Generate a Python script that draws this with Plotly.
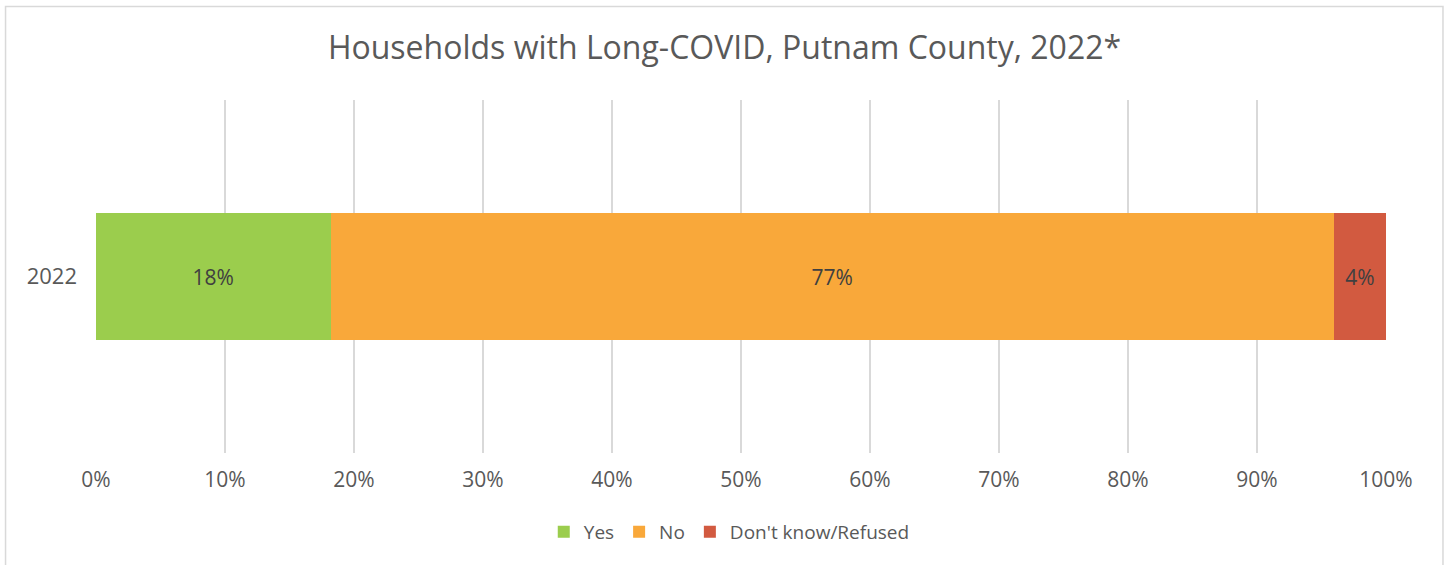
import plotly.graph_objects as go

categories = ["2022"]
series_names = ["Yes", "No", "Don't know/Refused"]
series_values = [[18], [77], [4]]
series_labels = ["18%", "77%", "4%"]
colors = ["#9BCD4D", "#F9A83A", "#D25A40"]
x_ticks = [0, 10, 20, 30, 40, 50, 60, 70, 80, 90, 100]
x_tick_labels = [f"{t}%" for t in x_ticks]

FONT = "Open Sans"
W, H = 1449, 565
L, R, T, B = 96, 62.5, 100, 112
pw, ph = W - L - R, H - T - B

fig = go.Figure()
for name, vals, lab, col in zip(series_names, series_values, series_labels, colors):
    fig.add_trace(go.Bar(
        y=categories, x=vals, name=name, orientation="h",
        marker=dict(color=col, line=dict(width=0)),
        text=[lab], textposition="inside", insidetextanchor="middle",
        textfont=dict(family=FONT, size=21, color="#404040"),
        hoverinfo="skip",
    ))

def px_x(x):
    return (x - L) / pw

def px_y(y):
    return (H - B - y) / ph

fig.update_layout(
    width=W, height=H,
    margin=dict(l=L, r=R, t=T, b=B, pad=0),
    barmode="stack", barnorm="percent", bargap=0.643,
    plot_bgcolor="white", paper_bgcolor="white",
    font=dict(family=FONT, color="#595959", size=20),
    title=dict(text="Households with Long-COVID, Putnam County, 2022*",
               x=0.5, xanchor="center", xref="container",
               y=1 - 48 / H, yanchor="middle", yref="container",
               font=dict(family=FONT, size=32, color="#595959")),
    xaxis=dict(range=[0, 100], tickvals=x_ticks, ticktext=x_tick_labels,
               showgrid=True, gridcolor="#D9D9D9", gridwidth=1.5,
               zeroline=False, showline=False, ticks="",
               ticklabelstandoff=12, fixedrange=True,
               tickfont=dict(family=FONT, size=21, color="#595959")),
    yaxis=dict(showgrid=False, zeroline=False, showline=False, ticks="",
               ticklabelstandoff=18, fixedrange=True,
               tickfont=dict(family=FONT, size=22, color="#595959")),
    legend=dict(orientation="h", x=px_x(729.5), xanchor="center",
                y=px_y(532), yanchor="middle", traceorder="normal",
                font=dict(family=FONT, size=19, color="#595959"),
                itemwidth=30, bgcolor="rgba(0,0,0,0)"),
    showlegend=True,
    uniformtext=dict(mode=False),
    shapes=[dict(type="rect", xref="paper", yref="paper",
                 x0=px_x(5.5), x1=px_x(1443.5), y0=px_y(600), y1=px_y(6.5),
                 line=dict(color="#D9D9D9", width=1.5), fillcolor="rgba(0,0,0,0)",
                 layer="below")],
)

fig.write_html("out.html", config={"displayModeBar": False},
               post_script="document.body.style.margin='0';document.body.style.overflow='hidden';")
